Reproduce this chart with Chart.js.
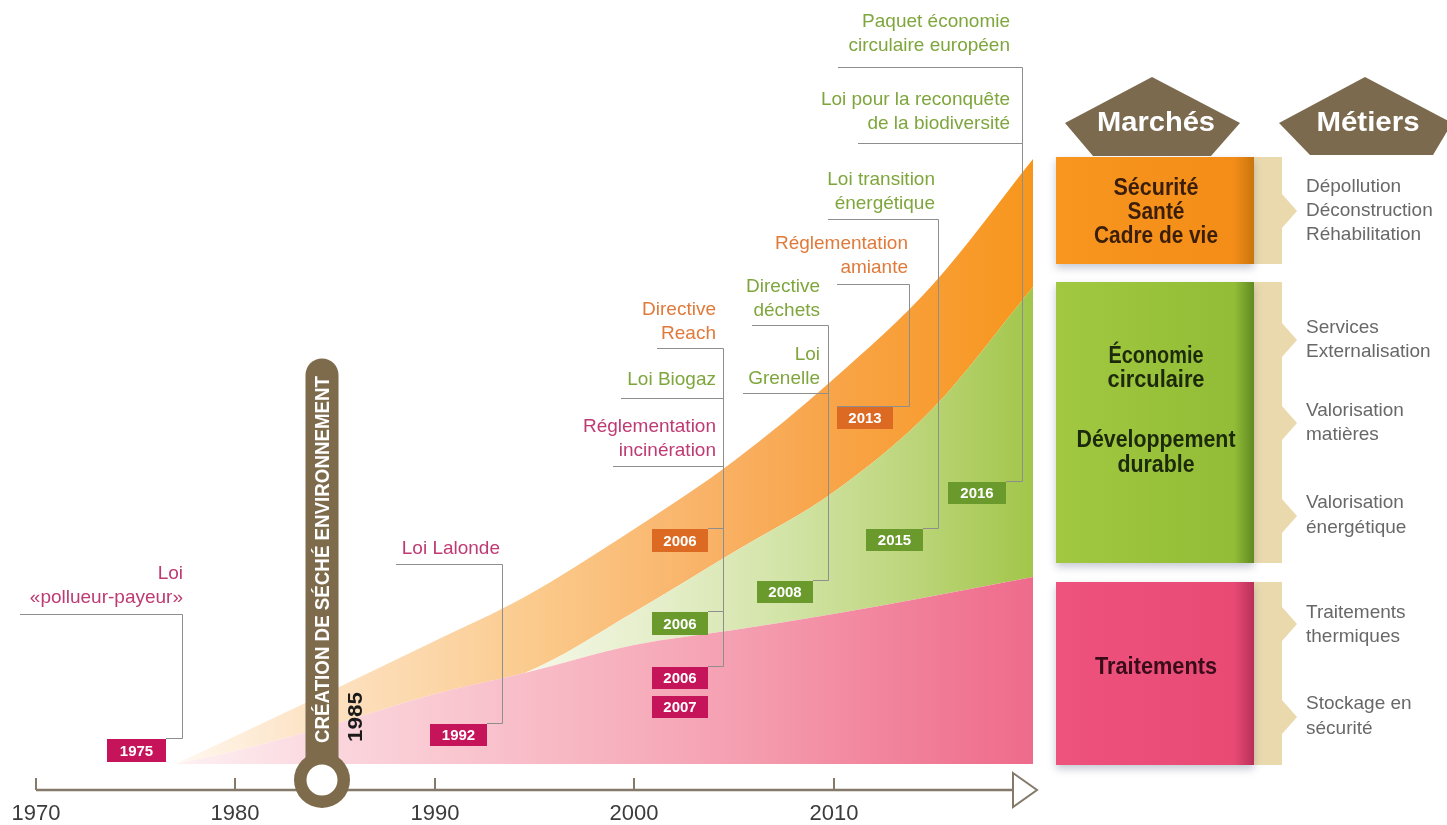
<!DOCTYPE html>
<html><head><meta charset="utf-8">
<script src="https://cdn.jsdelivr.net/npm/chart.js@4.4.1/dist/chart.umd.min.js"></script>
<style>html,body{margin:0;padding:0;background:#fff;}#wrap{position:relative;width:1447px;height:825px;}</style>
</head><body><div id="wrap"><canvas id="c"></canvas></div>
<script>
// ---------- DATA ----------
const years = [1977, 1980, 1985, 1990, 1994.5, 2000, 2005, 2010, 2015, 2020];
const traitements        = [0, 1.3, 4.0, 7.0, 9.1, 11.9, 13.4, 15.0, 16.8, 18.7];
const economieCirculaire = [0, 0, 0, 0, 0, 3.3, 7.8, 12.2, 18.8, 29.0];
const securiteSante      = [0, 1.5, 3.5, 5.3, 7.6, 8.3, 9.1, 11.3, 12.4, 12.8];
const axisTicks = [1970, 1980, 1990, 2000, 2010];
const marchesLabels = [["Sécurité","Santé","Cadre de vie"],["Économie","circulaire","Développement","durable"],["Traitements"]];
const metiersLabels = [["Dépollution","Déconstruction","Réhabilitation"],["Services","Externalisation","Valorisation","matières","Valorisation","énergétique"],["Traitements","thermiques","Stockage en","sécurité"]];
const pinLabel = "CRÉATION DE SÉCHÉ ENVIRONNEMENT";
const pinYear = "1985";

// ---------- LAYOUT / STYLE ----------
const FONT = '"Liberation Sans", Arial, Helvetica, sans-serif';
const COL = {
  t: {text:'#be3a73', tag:'#c5145a'},
  e: {text:'#7ea63c', tag:'#6a9a2c'},
  s: {text:'#e07a3a', tag:'#dc6a22'}
};
const groups = [
  {vx:182, notes:[{L:['Loi','«pollueur-payeur»'], c:'t', rx:183, y:574, ux:20, uy:614}],
   tags:[{t:'1975', c:'t', x:107, y:739, w:59, h:23}]},
  {vx:502, notes:[{L:['Loi Lalonde'], c:'t', rx:500, y:549, ux:396, uy:564}],
   tags:[{t:'1992', c:'t', x:430, y:724, w:57, h:22}]},
  {vx:723, notes:[{L:['Directive','Reach'], c:'s', rx:716, y:310, ux:657, uy:348},
                  {L:['Loi Biogaz'], c:'e', rx:716, y:380, ux:621, uy:398},
                  {L:['Réglementation','incinération'], c:'t', rx:716, y:427, ux:613, uy:466}],
   tags:[{t:'2006', c:'s', x:652, y:529, w:56, h:23},
         {t:'2006', c:'e', x:652, y:612, w:56, h:23},
         {t:'2006', c:'t', x:652, y:667, w:56, h:22},
         {t:'2007', c:'t', x:652, y:696, w:56, h:22, nolink:true}]},
  {vx:828, notes:[{L:['Directive','déchets'], c:'e', rx:820, y:287, ux:752, uy:325},
                  {L:['Loi','Grenelle'], c:'e', rx:820, y:355, ux:743, uy:393}],
   tags:[{t:'2008', c:'e', x:757, y:581, w:56, h:22}]},
  {vx:909, notes:[{L:['Réglementation','amiante'], c:'s', rx:908, y:244, ux:837, uy:284}],
   tags:[{t:'2013', c:'s', x:837, y:407, w:56, h:22, full:true}]},
  {vx:938, notes:[{L:['Loi transition','énergétique'], c:'e', rx:935, y:180, ux:828, uy:219}],
   tags:[{t:'2015', c:'e', x:866, y:529, w:57, h:22}]},
  {vx:1022, notes:[{L:['Paquet économie','circulaire européen'], c:'e', rx:1010, y:22, ux:838, uy:67},
                   {L:['Loi pour la reconquête','de la biodiversité'], c:'e', rx:1010, y:100, ux:858, uy:143}],
   tags:[{t:'2016', c:'e', x:948, y:482, w:58, h:22}]}
];

function fitText(ctx, text, x, y, targetW, font, color, align) {
  ctx.save();
  ctx.font = font;
  const w = ctx.measureText(text).width;
  ctx.translate(x, y);
  ctx.scale(targetW / w, 1);
  ctx.fillStyle = color; ctx.textAlign = align || 'center'; ctx.textBaseline = 'middle';
  ctx.fillText(text, 0, 0);
  ctx.restore();
}

function gradient(chart, stops) {
  const a = chart.chartArea;
  const g = chart.ctx.createLinearGradient(a.left, 0, a.right, 0);
  const xs = chart.scales.x;
  stops.forEach(([yr, col]) => {
    const off = (xs.getPixelForValue(yr) - a.left) / (a.right - a.left);
    g.addColorStop(Math.min(1, Math.max(0, off)), col);
  });
  return g;
}
const pinkStops = [[1977,'#fdf1f3'],[1985,'#fbd6dd'],[1995,'#f8bcc7'],[2005,'#f5a0b2'],[2012,'#f2869e'],[2020,'#ee6b8b']];
const orangeStops = [[1977,'#fff8f0'],[1983,'#fde5c9'],[1990,'#fcd6a8'],[1995,'#fbca8c'],[2003,'#f9b46a'],[2010,'#f8a448'],[2020,'#f7961c']];
const greenStops = [[1995,'#f4f7e6'],[2002,'#e3edc6'],[2008,'#d1e3a4'],[2014,'#bcd57a'],[2020,'#a2c64a']];

function mk(label, arr, fill, stops) {
  return {
    label, data: years.map((yr, i) => ({x: yr, y: arr[i]})), fill,
    borderWidth: 0, pointRadius: 0, cubicInterpolationMode: 'monotone',
    backgroundColor: (ctx) => ctx.chart.chartArea ? gradient(ctx.chart, stops) : 'rgba(0,0,0,0)'
  };
}

const decor = {
  id: 'decor',
  beforeDraw(chart) {
    const ctx = chart.ctx;
    ctx.save(); ctx.fillStyle = '#fff'; ctx.fillRect(0, 0, chart.width, chart.height); ctx.restore();
  },
  afterDatasetsDraw(chart) {
    const ctx = chart.ctx;
    const xs = chart.scales.x;
    const axisY = 790;
    ctx.save();
    ctx.strokeStyle = '#8e8e8e'; ctx.lineWidth = 1;
    groups.forEach(g => {
      const vx = g.vx + 0.5;
      const top = Math.min(...g.notes.map(n => n.uy));
      const linked = g.tags.filter(t => !t.nolink);
      const bottom = Math.max(...linked.map(t => t.y));
      ctx.beginPath();
      ctx.moveTo(vx, top + 0.5); ctx.lineTo(vx, bottom - 0.5);
      g.notes.forEach(n => { ctx.moveTo(n.ux, n.uy + 0.5); ctx.lineTo(vx, n.uy + 0.5); });
      linked.forEach(t => { ctx.moveTo(vx, t.y - 0.5); ctx.lineTo(t.full ? t.x : t.x + t.w, t.y - 0.5); });
      ctx.stroke();
      g.notes.forEach(n => {
        ctx.font = '19px ' + FONT; ctx.fillStyle = COL[n.c].text;
        ctx.textAlign = 'right'; ctx.textBaseline = 'middle';
        n.L.forEach((s, i) => ctx.fillText(s, n.rx, n.y + i * 24));
      });
      g.tags.forEach(t => {
        ctx.fillStyle = COL[t.c].tag; ctx.fillRect(t.x, t.y, t.w, t.h);
        ctx.font = 'bold 15px ' + FONT; ctx.fillStyle = '#fff';
        ctx.textAlign = 'center'; ctx.textBaseline = 'middle';
        ctx.fillText(t.t, t.x + t.w / 2, t.y + t.h / 2 + 1);
      });
    });
    // axis
    const x0 = xs.getPixelForValue(1970);
    ctx.strokeStyle = '#85796a'; ctx.lineWidth = 2.5;
    ctx.beginPath(); ctx.moveTo(x0, axisY); ctx.lineTo(1013, axisY); ctx.stroke();
    ctx.lineWidth = 2;
    axisTicks.forEach(v => {
      const px = Math.round(xs.getPixelForValue(v));
      ctx.beginPath(); ctx.moveTo(px, axisY); ctx.lineTo(px, axisY - 12); ctx.stroke();
      ctx.font = '22px ' + FONT; ctx.fillStyle = '#3c3c3c';
      ctx.textAlign = 'center'; ctx.textBaseline = 'middle';
      ctx.fillText(String(v), px, axisY + 24);
    });
    ctx.fillStyle = '#fff';
    ctx.beginPath(); ctx.moveTo(1013, 773); ctx.lineTo(1037, 790); ctx.lineTo(1013, 807); ctx.closePath();
    ctx.fill(); ctx.stroke();
    // pin 1985
    const pcx = 322;
    ctx.fillStyle = '#7d6b4c';
    ctx.beginPath();
    ctx.moveTo(pcx - 16.5, 775);
    ctx.lineTo(pcx - 16.5, 375);
    ctx.arc(pcx, 375, 16.5, Math.PI, 0);
    ctx.lineTo(pcx + 16.5, 775);
    ctx.closePath(); ctx.fill();
    ctx.beginPath(); ctx.arc(pcx, 780, 28, 0, Math.PI * 2); ctx.fill();
    ctx.fillStyle = '#fff';
    ctx.beginPath(); ctx.arc(pcx, 780, 15.5, 0, Math.PI * 2); ctx.fill();
    ctx.save();
    ctx.translate(pcx + 1, 743); ctx.rotate(-Math.PI / 2);
    fitText(ctx, pinLabel, 0, 0, 367, 'bold 21px ' + FONT, '#ffffff', 'left');
    ctx.restore();
    ctx.save();
    ctx.translate(356, 717); ctx.rotate(-Math.PI / 2);
    fitText(ctx, pinYear, 0, 0, 50, 'bold 21px ' + FONT, '#1a1a1a', 'center');
    ctx.restore();
    ctx.restore();
  },
  afterDraw(chart) {
    const ctx = chart.ctx;
    ctx.save();
    ctx.fillStyle = '#7b6a4e';
    ctx.beginPath();
    ctx.moveTo(1065, 123); ctx.lineTo(1152, 77); ctx.lineTo(1240, 123); ctx.lineTo(1211, 156); ctx.lineTo(1093, 156); ctx.closePath(); ctx.fill();
    ctx.beginPath();
    ctx.moveTo(1279, 123); ctx.lineTo(1365, 77); ctx.lineTo(1452, 123); ctx.lineTo(1433, 155); ctx.lineTo(1310, 155); ctx.closePath(); ctx.fill();
    fitText(ctx, 'Marchés', 1156, 124, 118, 'bold 27px ' + FONT, '#ffffff');
    fitText(ctx, 'Métiers', 1368, 124, 103, 'bold 27px ' + FONT, '#ffffff');

    const boxes = [
      {y1:157, y2:264, c:['#f8961f','#f38d18','#c9750e'], tc:'#3b1e0a', chev:[211],
       lines:[[188,85],[212,57],[236,124]]},
      {y1:282, y2:563, c:['#a1c840','#93bd37','#5f8a22'], tc:'#1c290a', chev:[340,423,516],
       lines:[[356,95],[380,97],[440,159],[465,77]]},
      {y1:582, y2:765, c:['#ee537d','#e84a74','#b83059'], tc:'#3a0b18', chev:[624,717],
       lines:[[667,122]]}
    ];
    boxes.forEach((b, bi) => {
      ctx.fillStyle = '#ead9ad';
      ctx.fillRect(1253, b.y1, 29, b.y2 - b.y1);
      b.chev.forEach(cy => {
        ctx.beginPath(); ctx.moveTo(1282, cy - 17); ctx.lineTo(1297, cy); ctx.lineTo(1282, cy + 17); ctx.closePath(); ctx.fill();
      });
      ctx.save();
      ctx.shadowColor = 'rgba(90,100,130,0.35)'; ctx.shadowBlur = 8; ctx.shadowOffsetY = 4;
      const g = ctx.createLinearGradient(1056, 0, 1254, 0);
      g.addColorStop(0, b.c[0]); g.addColorStop(0.9, b.c[1]); g.addColorStop(1, b.c[2]);
      ctx.fillStyle = g;
      ctx.fillRect(1056, b.y1, 198, b.y2 - b.y1);
      ctx.restore();
      marchesLabels[bi].forEach((s, i) => {
        fitText(ctx, s, 1156, b.lines[i][0], b.lines[i][1], 'bold 24px ' + FONT, b.tc);
      });
    });
    const metY = [[187,211,235],[328,352,411,435,503,528],[613,637,704,729]];
    ctx.font = '19px ' + FONT; ctx.fillStyle = '#686868';
    ctx.textAlign = 'left'; ctx.textBaseline = 'middle';
    metiersLabels.forEach((arr, bi) => arr.forEach((s, i) => ctx.fillText(s, 1306, metY[bi][i])));
    ctx.restore();
  }
};

new Chart(document.getElementById('c'), {
  type: 'line',
  data: {
    datasets: [
      mk('Traitements', traitements, 'origin', pinkStops),
      mk('Économie circulaire / Développement durable', economieCirculaire, '-1', greenStops),
      mk('Sécurité Santé Cadre de vie', securiteSante, '-1', orangeStops)
    ]
  },
  options: {
    responsive: true, maintainAspectRatio: false, animation: false,
    layout: {padding: {left: 36, right: 414, top: 144, bottom: 35}},
    scales: {
      x: {type: 'linear', min: 1970, max: 2020, display: false},
      y: {stacked: true, min: -2.6, max: 62, display: false}
    },
    plugins: {legend: {display: false}, tooltip: {enabled: false}},
    elements: {line: {borderWidth: 0}}
  },
  plugins: [decor]
});
</script>
</body></html>
